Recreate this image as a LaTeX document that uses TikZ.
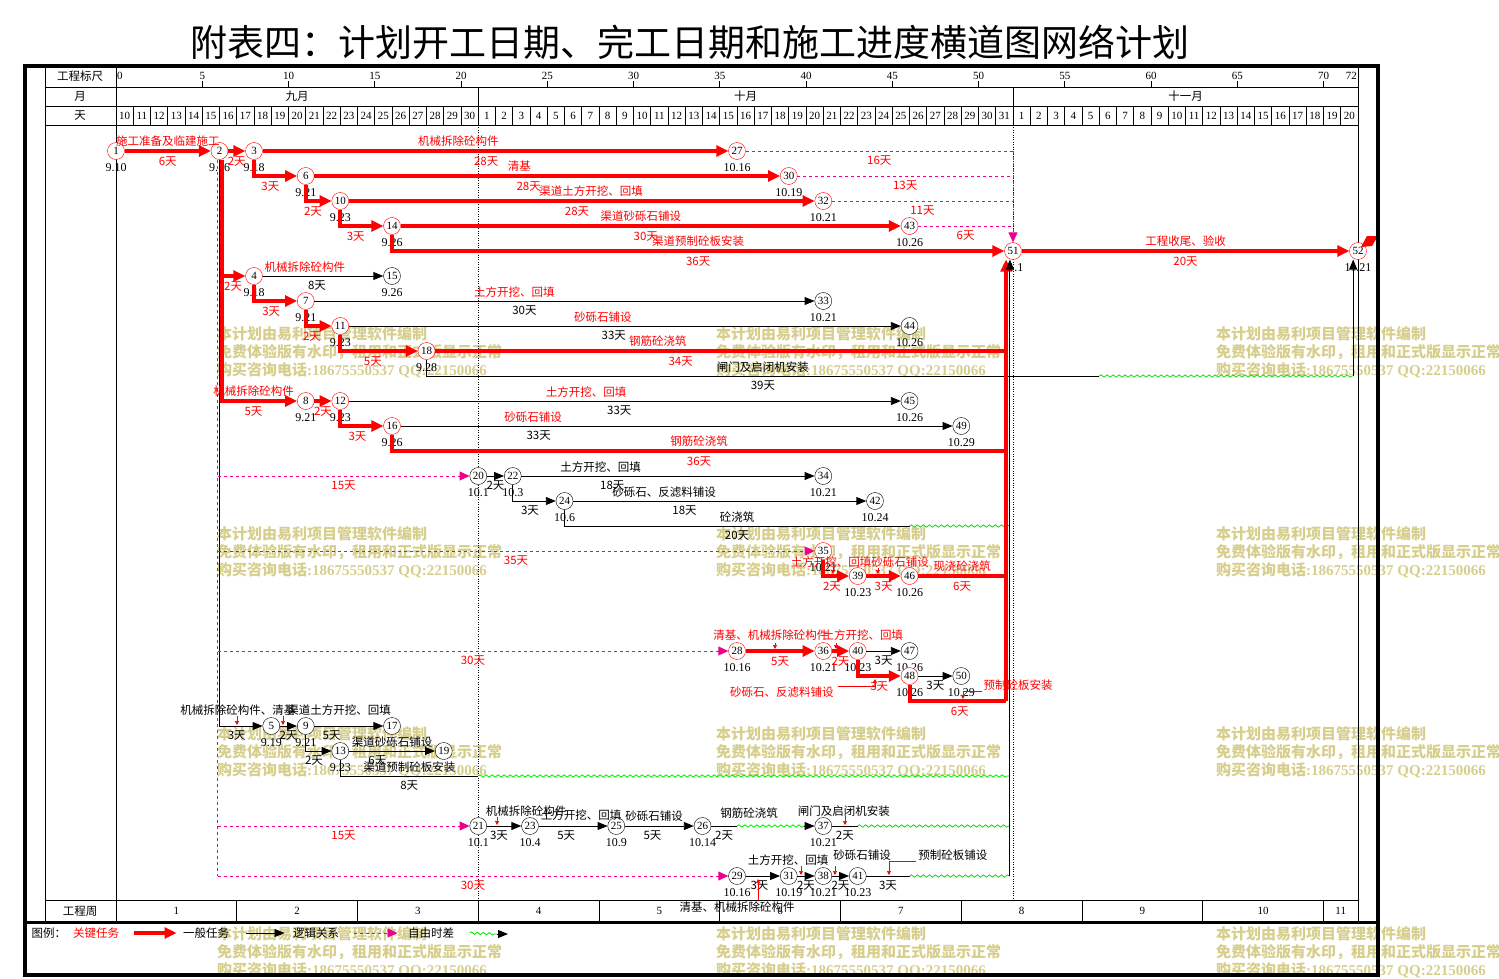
\documentclass[tikz,border=0pt]{standalone}
\usepackage{fontspec}
\setmainfont{Liberation Serif}
\newfontfamily\cjk{Noto Sans CJK SC}
\usepackage{tikz}
\usetikzlibrary{arrows.meta,decorations.pathmorphing}

\definecolor{wmark}{RGB}{214,206,140}
\definecolor{fgreen}{RGB}{0,230,0}
\newcommand\cjkf{\cjk\fontsize{11.5}{12}\selectfont}
\newcommand\numf{\fontsize{11}{12}\selectfont}
\newcommand\datef{\fontsize{12}{12}\selectfont}

\begin{document}
\begin{tikzpicture}
	[x=1pt,y=-1pt,
		crit node/.style={circle,draw=red,fill=white,minimum size=17pt,inner sep=0pt,font=\numf},
		gen node/.style={circle,draw,fill=white,minimum size=17pt,inner sep=0pt,font=\numf},
		crit/.style={red,line width=4pt,-{Triangle[length=12pt,width=11pt]}},
		gen/.style={black,line width=0.9pt,-{Triangle[length=10pt,width=8pt]}},
		logic/.style={magenta,line width=0.9pt,dash pattern=on 3pt off 3pt,-{Triangle[length=10pt,width=9pt]}},
		free/.style={fgreen,line width=0.8pt,decorate,decoration={snake,amplitude=1.2pt,segment length=6pt}},
		rn/.style={above=2pt,inner sep=1pt,font=\cjkf,text=red},
		rd/.style={below=3pt,inner sep=1pt,font=\cjkf,text=red},
		bn/.style={above=2pt,inner sep=1pt,font=\cjkf,text=black},
		bd/.style={below=3pt,inner sep=1pt,font=\cjkf,text=black},
		tag/.style={inner sep=1pt,font=\cjkf},
		date/.style={font=\datef,inner sep=0pt,label distance=4pt},
		ptr/.style={red,line width=0.6pt,-{Triangle[length=4pt,width=4pt]}},
		rule line/.style={black,line width=0.8pt},
		wm/.style={anchor=west,inner sep=0pt,text=wmark,font=\bfseries\fontsize{15}{15}\selectfont}]

	\useasboundingbox (0,0) rectangle (1499,979);

	\node[font=\cjk\fontsize{37}{40}\selectfont] (title) at (690,42) {附表四：计划开工日期、完工日期和施工进度横道图网络计划};

	% watermark
	\foreach \wx in {217,716,1216}
	\foreach \wy in {334,534,734,934}
		{\node[wm] (wa\wx-\wy) at (\wx,\wy) {\cjk 本计划由易利项目管理软件编制};
		\node[wm] (wb\wx-\wy) at (\wx,\wy+18) {\cjk 免费体验版有水印，租用和正式版显示正常};
		\node[wm] (wc\wx-\wy) at (\wx,\wy+36) {{\cjk 购买咨询电话}:18675550537 QQ:22150066};}

	% table frame
	\draw[rule line] (45,66) -- (45,922) (116,66) -- (116,922) (1358,66) -- (1358,922);
	\foreach \yy in {87,106,125,900} \draw[rule line] (45,\yy) -- (1358,\yy);
	\node[font=\cjkf] (h1) at (80,76) {工程标尺};
	\node[font=\cjkf] (h2) at (80,96) {月};
	\node[font=\cjkf] (h3) at (80,115.5) {天};
	\node[font=\cjkf] (h4) at (80,911) {工程周};

	\begin{scope}[shift={(116,0)},x=17.25pt]
		% ruler, months, days, weeks
		\node[font=\numf,anchor=west,inner sep=1pt] (r0) at (0,76) {0};
		\foreach \t in {5,10,...,70}
			{\draw[rule line] (\t,81) -- (\t,87);
			\node[font=\numf] (r\t) at (\t,76) {\t};}
		\node[font=\numf,anchor=east,inner sep=1pt] (r72) at (72,76) {72};
		\draw[rule line] (21,87) -- (21,106) (52,87) -- (52,106);
		\node[font=\cjkf] (m9) at (10.5,96.5) {九月};
		\node[font=\cjkf] (m10) at (36.5,96.5) {十月};
		\node[font=\cjkf] (m11) at (62,96.5) {十一月};
		\foreach \i in {0,...,71}
			{\pgfmathtruncatemacro\dn{\i<21 ? \i+10 : (\i<52 ? \i-20 : \i-51)}
			\node[font=\numf] (d\i) at (\i+0.5,116) {\dn};}
		\foreach \i in {1,...,71} \draw[rule line] (\i,106) -- (\i,125);
		\foreach \w in {1,...,10}
			{\draw[rule line] (7*\w,900) -- (7*\w,922);
			\node[font=\numf] (wk\w) at (7*\w-3.5,911) {\w};}
		\node[font=\numf] (wk11) at (71,911) {11};
		\draw[dotted] (21,125) -- (21,900) (52,125) -- (52,900);

		% events
		\node[crit node,label={[date]below:9.10}] (n1) at (0,151) {1};
		\node[crit node,label={[date]below:9.16}] (n2) at (6,151) {2};
		\node[crit node,label={[date]below:9.18}] (n3) at (8,151) {3};
		\node[crit node,label={[date]below:10.16}] (n27) at (36,151) {27};
		\node[crit node,label={[date]below:9.21}] (n6) at (11,176) {6};
		\node[crit node,label={[date]below:10.19}] (n30) at (39,176) {30};
		\node[crit node,label={[date]below:9.23}] (n10) at (13,201) {10};
		\node[crit node,label={[date]below:10.21}] (n32) at (41,201) {32};
		\node[crit node,label={[date]below:9.26}] (n14) at (16,226) {14};
		\node[crit node,label={[date]below:10.26}] (n43) at (46,226) {43};
		\node[crit node,label={[date]below:11.1}] (n51) at (52,251) {51};
		\node[crit node,label={[date]below:11.21}] (n52) at (72,251) {52};
		\node[crit node,label={[date]below:9.18}] (n4) at (8,276) {4};
		\node[gen node,label={[date]below:9.26}] (n15) at (16,276) {15};
		\node[crit node,label={[date]below:9.21}] (n7) at (11,301) {7};
		\node[gen node,label={[date]below:10.21}] (n33) at (41,301) {33};
		\node[crit node,label={[date]below:9.23}] (n11) at (13,326) {11};
		\node[gen node,label={[date]below:10.26}] (n44) at (46,326) {44};
		\node[crit node,label={[date]below:9.28}] (n18) at (18,351) {18};
		\node[crit node,label={[date]below:9.21}] (n8) at (11,401) {8};
		\node[crit node,label={[date]below:9.23}] (n12) at (13,401) {12};
		\node[gen node,label={[date]below:10.26}] (n45) at (46,401) {45};
		\node[crit node,label={[date]below:9.26}] (n16) at (16,426) {16};
		\node[gen node,label={[date]below:10.29}] (n49) at (49,426) {49};
		\node[gen node,label={[date]below:10.1}] (n20) at (21,476) {20};
		\node[gen node,label={[date]below:10.3}] (n22) at (23,476) {22};
		\node[gen node,label={[date]below:10.21}] (n34) at (41,476) {34};
		\node[gen node,label={[date]below:10.6}] (n24) at (26,501) {24};
		\node[gen node,label={[date]below:10.24}] (n42) at (44,501) {42};
		\node[crit node,label={[date]below:10.21}] (n35) at (41,551) {35};
		\node[crit node,label={[date]below:10.23}] (n39) at (43,576) {39};
		\node[crit node,label={[date]below:10.26}] (n46) at (46,576) {46};
		\node[crit node,label={[date]below:10.16}] (n28) at (36,651) {28};
		\node[crit node,label={[date]below:10.21}] (n36) at (41,651) {36};
		\node[crit node,label={[date]below:10.23}] (n40) at (43,651) {40};
		\node[gen node,label={[date]below:10.26}] (n47) at (46,651) {47};
		\node[crit node,label={[date]below:10.26}] (n48) at (46,676) {48};
		\node[gen node,label={[date]below:10.29}] (n50) at (49,676) {50};
		\node[gen node,label={[date]below:9.19}] (n5) at (9,726) {5};
		\node[gen node,label={[date]below:9.21}] (n9) at (11,726) {9};
		\node[gen node] (n17) at (16,726) {17};
		\node[gen node,label={[date]below:9.23}] (n13) at (13,751) {13};
		\node[gen node] (n19) at (19,751) {19};
		\node[gen node,label={[date]below:10.1}] (n21) at (21,826) {21};
		\node[gen node,label={[date]below:10.4}] (n23) at (24,826) {23};
		\node[gen node,label={[date]below:10.9}] (n25) at (29,826) {25};
		\node[gen node,label={[date]below:10.14}] (n26) at (34,826) {26};
		\node[gen node,label={[date]below:10.21}] (n37) at (41,826) {37};
		\node[gen node,label={[date]below:10.16}] (n29) at (36,876) {29};
		\node[gen node,label={[date]below:10.19}] (n31) at (39,876) {31};
		\node[gen node,label={[date]below:10.21}] (n38) at (41,876) {38};
		\node[gen node,label={[date]below:10.23}] (n41) at (43,876) {41};

		% joins and free ends
		\coordinate (m2) at ([xshift=-2pt]n2.south);
		\coordinate (r51) at (51.6,259.5);
		\coordinate (b51) at (51.82,259.5);
		\coordinate (b52) at (71.72,259.5);
		\coordinate (k16) at (51.6,451);
		\coordinate (k48) at (51.6,701);
		\coordinate (w18) at (57,376);
		\coordinate (w24) at (46,526);
		\coordinate (w13) at (21,776);
		\coordinate (w26) at (36,826);
		\coordinate (v37) at (39.9,826);
		\coordinate (w37) at (43,826);
		\coordinate (w41) at (46,876);

		% trunks below event 2
		\draw[logic,-] (m2) -- (m2 |- n29);
		\draw[gen] (n2.south) |- node[bd,pos=.7]{3天} (n5);
		\draw[crit] ([xshift=2.5pt]n2.south) |- node[rd,pos=.74]{2天} (n4);
		\draw[crit] ([xshift=2.5pt]n2.south) |- node[rn,pos=.71]{机械拆除砼构件} node[rd,pos=.71]{5天} (n8);

		% rows 1-5
		\draw[crit] (n1) -- node[rn]{施工准备及临建施工} node[rd]{6天} (n2);
		\draw[crit] (n2) -- node[rd]{2天} (n3);
		\draw[crit] (n3) -- node[rn,pos=.42]{机械拆除砼构件} node[rd,pos=.48]{28天} (n27);
		\draw[crit] (n3) |- node[rd,pos=.69]{3天} (n6);
		\draw[crit] (n6) -- node[rn,pos=.44]{清基} node[rd,pos=.46]{28天} (n30);
		\draw[crit] (n6) |- node[rd,pos=.64]{2天} (n10);
		\draw[crit] (n10) -- node[rn,pos=.52]{渠道土方开挖、回填} node[rd,pos=.49]{28天} (n32);
		\draw[crit] (n10) |- node[rd,pos=.68]{3天} (n14);
		\draw[crit] (n14) -- node[rn,pos=.48]{渠道砂砾石铺设} node[rd,pos=.49]{30天} (n43);
		\draw[crit] (n14) |- node[rn,pos=.75]{渠道预制砼板安装} node[rd,pos=.75]{36天} (n51);
		\draw[crit] (n51) -- node[rn]{工程收尾、验收} node[rd]{20天} (n52);
		\draw[logic,-] (n27) -- node[rd]{16天} (n27 -| n51);
		\draw[logic,-] (n30) -- node[rd]{13天} (n30 -| n51);
		\draw[logic,-] (n32) -- node[rd]{11天} (n32 -| n51);
		\draw[logic,-] (n43) -- node[rd]{6天} (n43 -| n51);
		\draw[logic] (n27 -| n51) -- (n51);

		% rows 4-18
		\draw[gen] (n4) -- node[rn,pos=.35]{机械拆除砼构件} node[bd,pos=.45]{8天} (n15);
		\draw[crit] (n4) |- node[rd,pos=.7]{3天} (n7);
		\draw[gen] (n7) -- node[rn,pos=.4]{土方开挖、回填} node[bd,pos=.42]{30天} (n33);
		\draw[crit] (n7) |- node[rd,pos=.62]{2天} (n11);
		\draw[gen] (n11) -- node[rn,pos=.46]{砂砾石铺设} node[bd,pos=.48]{33天} (n44);
		\draw[crit] (n11) |- node[rd,pos=.71]{5天} (n18);
		\draw[crit,-] (n18) -- node[rn,pos=.39]{钢筋砼浇筑} node[rd,pos=.43]{34天} (n18 -| r51);
		\draw[gen,-] (n18) |- node[bn,pos=.75]{闸门及启闭机安装} node[bd,pos=.75]{39天} (w18);
		\draw[free] (w18) -- (w18 -| b52);
		\draw[gen] (w18 -| b52) -- (b52);

		% rows 8-16
		\draw[crit] (n8) -- node[rd]{2天} (n12);
		\draw[gen] (n12) -- node[rn,pos=.43]{土方开挖、回填} node[bd,pos=.49]{33天} (n45);
		\draw[crit] (n12) |- node[rd,pos=.7]{3天} (n16);
		\draw[gen] (n16) -- node[rn,pos=.24]{砂砾石铺设} node[bd,pos=.25]{33天} (n49);
		\draw[crit,-] (n16) |- node[rn,pos=.75]{钢筋砼浇筑} node[rd,pos=.75]{36天} (k16);

		% rows 20-24
		\draw[logic] (m2 |- n20) -- node[rd]{15天} (n20);
		\draw[gen] (n20) -- node[bd]{2天} (n22);
		\draw[gen] (n22) -- node[bn,pos=.27]{土方开挖、回填} node[bd,pos=.31]{18天} (n34);
		\draw[gen] (n22) |- node[bd,pos=.7]{3天} (n24);
		\draw[gen] (n24) -- node[bn,pos=.31]{砂砾石、反滤料铺设} node[bd,pos=.38]{18天} (n42);
		\draw[gen,-] (n24) |- node[bn,pos=.75]{砼浇筑} node[bd,pos=.75]{20天} (w24);
		\draw[free] (w24) -- (w24 -| b51);

		% rows 35-46
		\draw[logic] (m2 |- n35) -- node[rd]{35天} (n35);
		\draw[crit] (n35) |- node[rd,pos=.67]{2天} (n39);
		\draw[crit] (n39) -- node[rd]{3天} (n46);
		\draw[crit,-] (n46) -- node[rn]{现浇砼浇筑} node[rd]{6天} (n46 -| r51);
		\node[tag,text=red] (l39) at (41.45,562) {土方开挖、回填};
		\node[tag,text=red] (l46) at (45.45,562) {砂砾石铺设};

		% rows 28-50
		\draw[logic] (m2 |- n28) -- node[rd]{30天} (n28);
		\draw[crit] (n28) -- node[rd]{5天} (n36);
		\draw[crit] (n36) -- node[rd]{2天} (n40);
		\draw[gen] (n40) -- node[bd]{3天} (n47);
		\draw[crit] (n40) |- node[rd,pos=.75]{3天} (n48);
		\draw[gen] (n48) -- node[bd]{3天} (n50);
		\draw[crit,-] (n48) |- node[rd,pos=.76]{6天} (k48);
		\draw[crit] (k48) -- (r51);
		\node[tag,text=red] (l36) at (37.97,635) {清基、机械拆除砼构件};
		\node[tag,text=red] (l40) at (43.3,635) {土方开挖、回填};
		\node[tag,text=red] (l48) at (38.6,692) {砂砾石、反滤料铺设};
		\node[tag,text=red] (lk48) at (52.29,685) {预制砼板安装};

		% rows 5-19
		\draw[gen] (n5) -- node[bd]{2天} (n9);
		\draw[gen] (n9) -- node[bd,pos=.25]{5天} (n17);
		\draw[gen] (n9) |- node[bd,pos=.66]{2天} (n13);
		\draw[gen] (n13) -- node[bn,pos=.5]{渠道砂砾石铺设} node[bd,pos=.33]{6天} (n19);
		\draw[gen,-] (n13) |- node[bn,pos=.75]{渠道预制砼板安装} node[bd,pos=.75]{8天} (w13);
		\draw[free] (w13) -- (w13 -| b51);
		\node[tag] (l5) at (7.07,710) {机械拆除砼构件、清基};
		\node[tag] (l17) at (12.93,710) {渠道土方开挖、回填};

		% rows 21-37
		\draw[logic] (m2 |- n21) -- node[rd]{15天} (n21);
		\draw[gen] (n21) -- node[bd,pos=.35]{3天} (n23);
		\draw[gen] (n23) -- node[bd,pos=.4]{5天} (n25);
		\draw[gen] (n25) -- node[bd,pos=.4]{5天} (n26);
		\draw[gen,-] (n26) -- node[bd]{2天} (w26);
		\draw[free] (w26) -- (v37);
		\draw[gen] (v37) -- (n37);
		\draw[gen,-] (n37) -- node[bd]{2天} (w37);
		\draw[free] (w37) -- (w37 -| b51);
		\node[tag] (l23) at (23.77,811) {机械拆除砼构件};
		\node[tag] (l25) at (26.96,815) {土方开挖、回填};
		\node[tag] (l26) at (31.19,816) {砂砾石铺设};
		\node[tag] (l37) at (36.7,813) {钢筋砼浇筑};
		\node[tag] (lw37) at (42.2,811) {闸门及启闭机安装};

		% rows 29-41
		\draw[logic] (m2 |- n29) -- node[rd]{30天} (n29);
		\draw[gen] (n29) -- node[bd,pos=.4]{3天} (n31);
		\draw[gen] (n31) -- node[bd]{2天} (n38);
		\draw[gen] (n38) -- node[bd]{2天} (n41);
		\draw[gen,-] (n41) -- node[bd]{3天} (w41);
		\draw[free] (w41) -- (w41 -| b51);
		\draw[gen] (w41 -| b51) -- (b51);
		\node[tag] (l31) at (36,907) {清基、机械拆除砼构件};
		\node[tag] (l38) at (38.96,860) {土方开挖、回填};
		\node[tag] (l41) at (43.25,855) {砂砾石铺设};
		\node[tag] (lw41) at (48.52,855) {预制砼板铺设};

		% label pointers
		\draw[ptr] (7.01,716) -- (7.01,725);
		\draw[ptr] (9.68,716) -- (9.68,725);
		\draw[ptr] (22.09,817) -- (22.09,825);
		\draw[ptr] (42.26,816) -- (42.26,825);
		\draw[ptr] (39.71,866) -- (39.71,875);
		\draw[ptr] (41.68,866) -- (41.68,875);
		\draw[ptr] (37.22,900) -- (37.22,879);
		\draw[ptr] (46.38,861) -- (44.81,861) -- (44.81,875);
		\draw[ptr] (41.57,567) -- (41.57,574);
		\draw[ptr] (44.17,568) -- (44.17,574);
		\draw[ptr] (38.2,643) -- (38.2,649);
		\draw[ptr] (41.74,643) -- (41.74,649);
		\draw[ptr] (41.86,686) -- (44.0,686) -- (44.0,679);
		\draw[ptr] (50.2,691) -- (49.1,691) -- (49.1,699);
	\end{scope}

	% finish flag
	\fill[red] (1361,247) -- (1367,236) -- (1378,236) -- (1372,246) -- cycle;

	% legend
	\node[font=\cjkf,anchor=west] (lg0) at (28,933) {图例：};
	\node[font=\cjkf,text=red] (lg1) at (96,933) {关键任务};
	\draw[crit] ([xshift=11pt]lg1.east) -- ++(43,0);
	\node[font=\cjkf] (lg2) at (206,933) {一般任务};
	\draw[gen] ([xshift=13pt]lg2.east) -- ++(39,0);
	\node[font=\cjkf] (lg3) at (316,933) {逻辑关系};
	\draw[logic] ([xshift=11pt]lg3.east) -- ++(44,0);
	\node[font=\cjkf] (lg4) at (431,933) {自由时差};
	\coordinate (lgw) at (497,934);
	\draw[free] ([xshift=12pt]lg4.east) -- (lgw);
	\draw[gen] (lgw) -- ++(11,0);

	% outer border
	\draw[line width=4pt] (25,66) rectangle (1378,975);
	\draw[line width=3pt] (25,922) -- (1378,922);
\end{tikzpicture}
\end{document}
